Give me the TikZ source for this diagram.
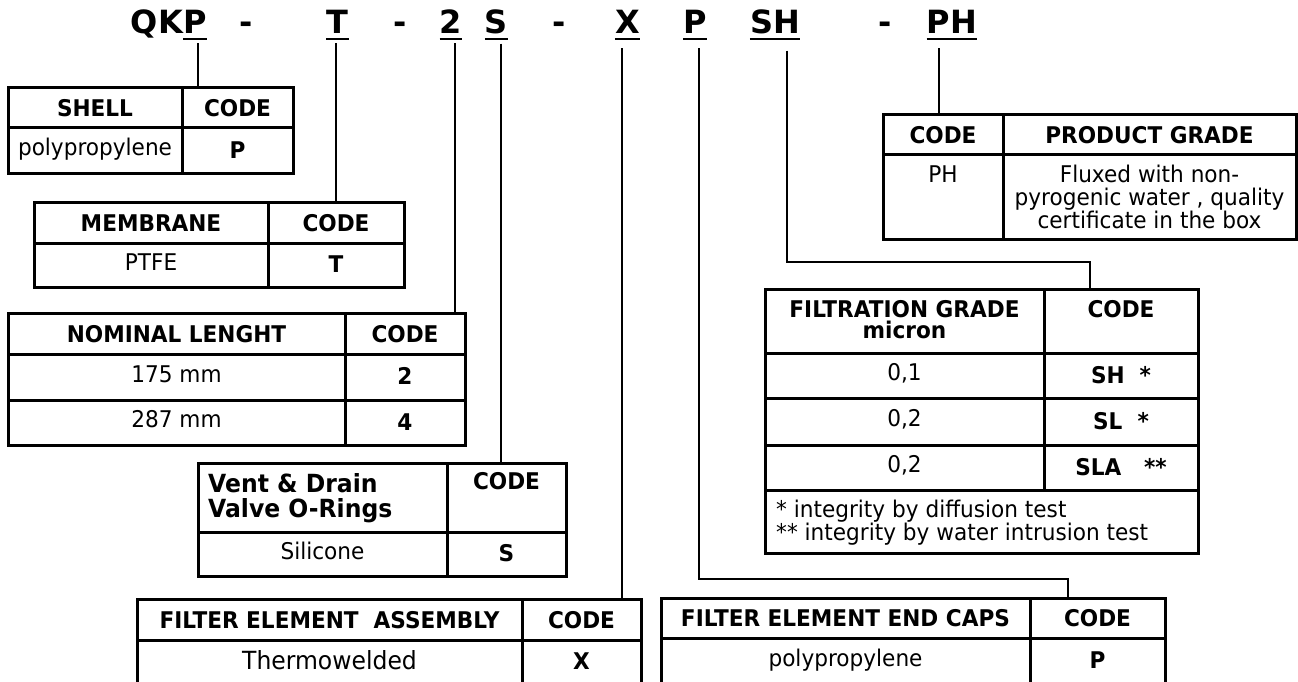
\documentclass[tikz,border=0pt]{standalone}
\usepackage{fontspec}
\setmainfont{DejaVu Sans}
\newfontfamily\tfont[FakeStretch=0.94]{DejaVu Sans}
\newcommand\tcell[7][]{\node[cellbox,minimum width={#5-#3},minimum height={#6-#4},#1] (#2) at ({(#3+#5)/2},{(#4+#6)/2}) {#7};}
\begin{document}
\begin{tikzpicture}[x=1pt,y=-1pt,
  tok/.style={font=\fontsize{32}{32}\selectfont\bfseries, inner sep=0pt, anchor=base},
  uline/.style={line width=2.6pt},
  conn/.style={line width=2pt},
  cellbox/.style={draw, line width=3pt, inner sep=0pt, text height=10pt, text depth=0pt, font=\tfont\fontsize{23}{25}\selectfont},
  hd/.style={font=\tfont\fontsize{23}{25}\selectfont\bfseries, text height=17pt},
  cv/.style={font=\tfont\fontsize{23}{25}\selectfont\bfseries, text height=15pt},
  txt/.style={inner sep=0pt, anchor=base, font=\tfont\fontsize{23}{25}\selectfont},
  btxt/.style={inner sep=0pt, anchor=base, font=\tfont\fontsize{23}{25}\selectfont\bfseries},
  bigtxt/.style={font=\tfont\fontsize{25}{27}\selectfont},
]
\path[use as bounding box, fill=white] (0,0) rectangle (1298,682);

% ---- title code ----
\node[tok] (p1) at (195,34) {P};
\node[tok, anchor=base east] (qk) at (p1.base west) {QK};
\node[tok] (d1) at (246.5,34) {-};
\node[tok] (t1) at (337.5,34) {T};
\node[tok] (d2) at (400,34) {-};
\node[tok] (n2) at (451,34) {2};
\node[tok] (s1) at (496.5,34) {S};
\node[tok] (d3) at (559,34) {-};
\node[tok] (x1) at (627.5,34) {X};
\node[tok] (p2) at (695,34) {P};
\node[tok] (sh) at (775,34) {SH};
\node[tok] (d4) at (885.5,34) {-};
\node[tok] (ph) at (952,34) {PH};
\foreach \n in {p1,t1,n2,s1,x1,p2,sh,ph}
  \draw[uline] ([yshift=-5pt]\n.base west) -- ([yshift=-5pt]\n.base east);

% ---- SHELL ----
\tcell[hd]{shA}{8}{88}{182}{128}{SHELL}
\tcell[hd]{shB}{182}{88}{293}{128}{CODE}
\tcell{shC}{8}{128}{182}{173}{polypropylene}
\tcell[cv]{shD}{182}{128}{293}{173}{P}

% ---- MEMBRANE ----
\tcell[hd]{meA}{34}{202}{268}{243}{MEMBRANE}
\tcell[hd]{meB}{268}{202}{404}{243}{CODE}
\tcell{meC}{34}{243}{268}{287}{PTFE}
\tcell[cv]{meD}{268}{243}{404}{287}{T}

% ---- NOMINAL LENGHT ----
\tcell[hd]{noA}{8}{313}{345}{354}{NOMINAL LENGHT}
\tcell[hd]{noB}{345}{313}{465}{354}{CODE}
\tcell{noC}{8}{354}{345}{400}{175 mm}
\tcell[cv]{noD}{345}{354}{465}{400}{2}
\tcell{noE}{8}{400}{345}{445}{287 mm}
\tcell[cv]{noF}{345}{400}{465}{445}{4}

% ---- VENT & DRAIN ----
\tcell{veA}{198}{463}{447}{532}{}
\tcell{veB}{447}{463}{566}{532}{}
\tcell{veC}{198}{532}{447}{576}{Silicone}
\tcell[cv]{veD}{447}{532}{566}{576}{S}
\node[btxt, anchor=base west, font=\tfont\fontsize{25}{27}\selectfont\bfseries] (veT1) at (208,492.5) {Vent \& Drain};
\node[btxt, anchor=base west, font=\tfont\fontsize{25}{27}\selectfont\bfseries] (veT2) at (208,517.5) {Valve O-Rings};
\node[btxt] (veT3) at (506.5,489.5) {CODE};

% ---- FILTER ELEMENT ASSEMBLY ----
\tcell[hd]{asA}{137}{599}{522}{640}{FILTER ELEMENT\ \ ASSEMBLY}
\tcell[hd]{asB}{522}{599}{641}{640}{CODE}
\tcell{asC}{137}{640}{522}{692}{}
\tcell{asD}{522}{640}{641}{692}{}
\node[txt, bigtxt] (asT1) at (329.5,669) {Thermowelded};
\node[btxt] (asT2) at (581.5,669) {X};

% ---- FILTER ELEMENT END CAPS ----
\tcell[hd]{ecA}{661}{598}{1030}{638}{FILTER ELEMENT END CAPS}
\tcell[hd]{ecB}{1030}{598}{1165}{638}{CODE}
\tcell{ecC}{661}{638}{1030}{692}{}
\tcell{ecD}{1030}{638}{1165}{692}{}
\node[txt] (ecT1) at (845.5,666) {polypropylene};
\node[btxt] (ecT2) at (1097.5,668) {P};

% ---- FILTRATION GRADE ----
\tcell{fgA}{765}{289}{1044}{353}{}
\tcell{fgB}{1044}{289}{1198}{353}{}
\node[btxt] (fgT1) at (904.5,317) {FILTRATION GRADE};
\node[btxt] (fgT2) at (904.5,338) {micron};
\node[btxt] (fgT3) at (1121,317) {CODE};
\tcell{fgC}{765}{353}{1044}{398}{0,1}
\tcell[cv]{fgD}{1044}{353}{1198}{398}{SH\ \ *}
\tcell{fgE}{765}{398}{1044}{445}{0,2}
\tcell[cv]{fgF}{1044}{398}{1198}{445}{SL\ \ *}
\tcell{fgG}{765}{445}{1044}{490}{0,2}
\tcell[cv]{fgH}{1044}{445}{1198}{490}{SLA\ \ \ **}
\tcell{fgI}{765}{490}{1198}{553}{}
\node[txt, anchor=base west] (fgN1) at (776,517) {* integrity by diffusion test};
\node[txt, anchor=base west] (fgN2) at (776,540) {** integrity by water intrusion test};

% ---- PRODUCT GRADE ----
\tcell[hd]{pgA}{883}{115}{1003}{154}{CODE}
\tcell[hd]{pgB}{1003}{115}{1296}{154}{PRODUCT GRADE}
\tcell{pgC}{883}{154}{1003}{239}{}
\tcell{pgD}{1003}{154}{1296}{239}{}
\node[txt] (pgT0) at (943,182) {PH};
\node[txt] (pgT1) at (1149.5,182) {Fluxed with non-};
\node[txt] (pgT2) at (1149.5,205) {pyrogenic water , quality};
\node[txt] (pgT3) at (1149.5,228) {certificate in the box};

% ---- connectors ----
\coordinate (cP1) at (198,0);
\coordinate (cT) at (336,0);
\coordinate (cN) at (455,0);
\coordinate (cS) at (501,0);
\coordinate (cX) at (622,0);
\coordinate (cP2) at (699,0);
\coordinate (bP2) at (1068,579);
\coordinate (cSH) at (787,0);
\coordinate (bSH) at (1090,262);
\coordinate (cPH) at (939,0);

\draw[conn, shorten <=9pt] (p1.south -| cP1) -- (shB.north -| cP1);
\draw[conn, shorten <=9pt] (t1.south -| cT) -- (meB.north -| cT);
\draw[conn, shorten <=9pt] (n2.south -| cN) -- (noB.north -| cN);
\draw[conn, shorten <=9pt] (s1.south -| cS) -- (veB.north -| cS);
\draw[conn, shorten <=14pt] (x1.south -| cX) -- (asB.north -| cX);
\draw[conn, shorten <=14pt] (p2.south -| cP2) -- (cP2 |- bP2) -- (bP2) -- (ecB.north -| bP2);
\draw[conn, shorten <=16pt] (sh.south -| cSH) -- (cSH |- bSH) -- (bSH) -- (fgB.north -| bSH);
\draw[conn, shorten <=14pt] (ph.south -| cPH) -- (pgA.north -| cPH);
\end{tikzpicture}
\end{document}
